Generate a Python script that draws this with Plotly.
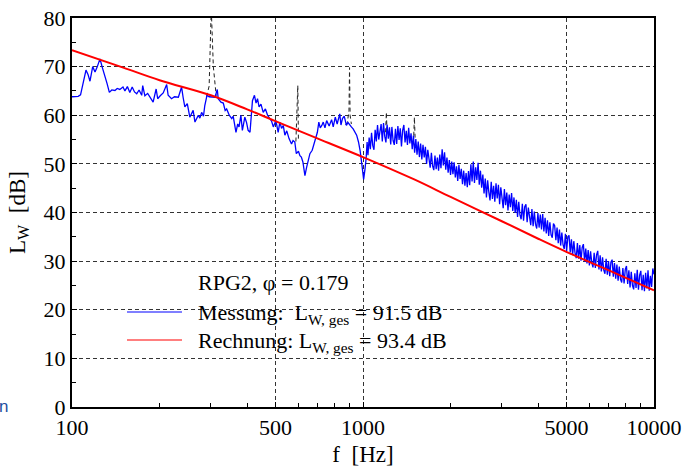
import numpy as np
import plotly.graph_objects as go

# --- Messung, low-frequency part (f in Hz, level in dB) ---
f_mess_low = [100, 103, 105, 107, 110, 111.7, 113.5, 115.3, 117.8, 120, 122, 124.8, 127, 129.8,
              132, 134.4, 137, 140.5, 143, 146, 149.7, 152, 155, 158, 161, 164, 166.9, 170,
              173.6, 175, 178, 182, 186, 190, 194.6, 197, 201, 205.8, 211.5, 214, 219.8, 225,
              232, 238, 241, 244.2, 249, 254, 260.8, 264.6, 271.7, 275, 278.9, 283, 286, 291,
              296, 303, 310, 315.7, 318, 325, 331, 336, 340, 347, 354, 358, 366, 371, 375,
              380.5, 385, 392.6, 398, 403, 409, 417, 423.6, 429, 434, 439.4, 446, 454, 462,
              470, 479, 485, 491.8, 502, 511, 518, 525, 532, 539, 547, 557, 568, 575, 583,
              590, 600, 607, 614, 621.5, 631.6, 640, 648, 657, 669, 678, 689, 697, 705, 713,
              722, 730, 740, 750, 765, 780, 790, 803, 815, 832, 840, 850, 862, 877, 888, 900,
              912, 925, 938, 951, 965, 977, 992, 1005, 1015, 1025, 1033]
L_mess_low = [63.8, 63.8, 63.9, 64.2, 67.5, 69.3, 68.4, 67.0, 70.0, 68.9, 69.9, 71.6, 69.9, 68.2,
              66.5, 64.7, 65.2, 65.1, 65.5, 65.3, 65.8, 65.0, 65.9, 64.7, 65.8, 64.8, 64.4, 65.2,
              64.1, 66.1, 64.0, 64.5, 63.5, 62.7, 65.4, 63.4, 64.0, 64.6, 66.3, 64.1, 63.4, 63.8,
              63.7, 65.8, 63.6, 61.7, 62.4, 59.6, 61.0, 58.6, 60.0, 59.4, 60.6, 59.8, 62.0, 64.1,
              63.8, 63.8, 63.7, 65.3, 63.4, 62.7, 62.5, 61.0, 61.3, 60.0, 59.3, 59.8, 56.5, 58.2, 57.6,
              60.0, 56.9, 59.6, 58.5, 56.9, 56.5, 63.0, 64.1, 62.5, 63.4, 61.7, 62.3, 60.6, 61.3,
              60.0, 59.3, 58.8, 57.6, 58.9, 56.5, 58.6, 57.3, 57.9, 55.9, 56.8, 55.2, 54.1, 54.8, 54.5,
              52.1, 52.6, 51.7, 51.4, 50.4, 47.6, 49.3, 50.7, 52.1, 52.8, 54.1, 55.2, 56.5, 58.6, 57.4,
              57.9, 58.6, 57.4, 58.9, 57.8, 59.1, 57.6, 59.6, 58.2, 60.3, 58.0, 59.3, 59.8, 57.9, 58.5, 57.9,
              57.6, 57.2, 56.6, 55.9, 54.5, 52.8, 49.7, 46.8, 48.7, 51.1, 54.5]

# --- Messung, high-frequency part on a log-spaced analysis grid 1040 Hz .. 10 kHz ---
f_mess_high = np.geomspace(1040, 10000, 240)
L_mess_high = [
    51.8, 55.4, 53.0, 56.4, 53.8, 52.9, 57.0, 54.6, 58.0, 55.0, 56.6, 58.2,
    54.6, 58.4, 55.7, 54.4, 58.1, 55.2, 57.5, 54.0, 57.6, 54.8, 53.9, 57.2,
    54.1, 57.8, 54.9, 57.3, 53.6, 56.9, 58.0, 54.4, 56.8, 53.9, 57.4, 54.2,
    56.3, 53.0, 55.8, 52.3, 55.1, 51.9, 54.6, 51.4, 54.2, 50.9, 53.9, 51.3,
    53.5, 50.0, 52.9, 50.6, 49.2, 52.3, 49.6, 48.7, 51.7, 48.9, 51.3, 48.6,
    51.9, 49.1, 53.0, 49.7, 52.4, 48.8, 51.3, 48.2, 50.8, 47.7, 50.5, 47.9,
    50.3, 47.2, 49.5, 46.5, 49.8, 46.9, 49.0, 45.8, 48.6, 45.5, 48.1, 45.2,
    48.5, 45.6, 49.9, 46.4, 50.5, 46.1, 49.3, 46.7, 50.2, 45.7, 48.6, 45.1,
    47.8, 43.9, 47.0, 43.1, 46.6, 44.2, 42.5, 46.3, 42.8, 45.5, 42.2, 46.0,
    42.9, 45.7, 41.7, 45.2, 42.1, 40.9, 44.8, 41.5, 44.1, 40.4, 43.7, 41.1,
    44.0, 40.3, 43.1, 39.9, 42.6, 39.1, 42.2, 39.5, 38.6, 41.8, 38.3, 41.2,
    41.7, 38.0, 41.0, 38.7, 37.4, 40.7, 37.2, 40.2, 37.6, 36.7, 39.9, 36.9,
    39.6, 36.5, 39.7, 36.1, 38.9, 35.7, 38.4, 35.2, 38.0, 35.4, 34.8, 37.7,
    37.3, 34.3, 36.9, 33.7, 36.5, 33.2, 35.9, 33.4, 32.5, 35.6, 32.1, 35.0,
    35.3, 31.8, 34.5, 31.2, 34.1, 31.7, 30.6, 33.7, 30.5, 33.3, 30.1, 32.8,
    33.5, 29.9, 32.6, 29.5, 32.3, 29.1, 32.0, 29.7, 28.7, 31.7, 28.6, 31.3,
    32.1, 28.3, 31.2, 27.9, 30.8, 28.2, 27.4, 30.5, 27.2, 30.0, 26.9, 29.8,
    30.3, 26.8, 29.6, 26.4, 29.3, 26.0, 28.9, 26.3, 25.6, 28.6, 25.4, 28.3,
    29.0, 25.3, 28.1, 24.6, 27.8, 25.0, 24.2, 27.5, 24.5, 28.2, 24.1, 27.1,
    28.0, 24.0, 27.2, 23.8, 27.6, 24.4, 28.1, 23.9, 27.0, 24.7, 28.5, 27.3,
]

# --- tonal components (unsmoothed spectrum, dashed) ---
f_tonal = [290, 296, 301, 306, 313, None, 588, 593, 597, 600, None,
           872, 884, 895, 899, 903, 912, None, 1196, 1203, 1210, None, 1494, 1502, 1510]
L_tonal = [63.8, 66, 82, 70, 64, None, 54.6, 60, 66.1, 54.8, None,
           58.0, 58.6, 61, 69.8, 60.0, 58.2, None, 56.5, 60.6, 56.2, None, 55.8, 59.6, 55.4]

# --- Rechnung ---
f_rech = [100, 150, 200, 300, 400, 500, 700, 1000, 1500, 2000, 3000, 4000, 5000, 7000, 10000]
L_rech = [73.4, 69.8, 67.2, 64.1, 61.2, 58.8, 55.2, 51.4, 46.8, 43.2, 38.2, 34.6, 31.9, 28.1, 24.0]

phi = 0.179
LW_mess = 91.5
LW_rech = 93.4

x_ticks = [100, 500, 1000, 5000, 10000]
x_minor = [200, 300, 400, 600, 700, 800, 900, 2000, 3000, 4000, 6000, 7000, 8000, 9000]
y_ticks = list(range(0, 81, 10))

FONT = "Liberation Serif"

fig = go.Figure()
fig.add_trace(go.Scatter(x=f_tonal, y=L_tonal, mode="lines", connectgaps=False,
                         line=dict(color="#222222", width=1, dash="4px,3px"),
                         showlegend=False, hoverinfo="skip"))
fig.add_trace(go.Scatter(x=list(f_mess_low) + list(f_mess_high),
                         y=L_mess_low + L_mess_high, mode="lines",
                         line=dict(color="#0000ff", width=1.3), showlegend=False))
fig.add_trace(go.Scatter(x=f_rech, y=L_rech, mode="lines", line_shape="spline",
                         line=dict(color="#ff0000", width=2), showlegend=False))

# plot-area geometry in pixels, used to place the hand-made legend
L_PX, R_PX, T_PX, B_PX = 72, 654, 18, 407


def px(xp):
    return (xp - L_PX) / (R_PX - L_PX)


def py(yp):
    return (B_PX - yp) / (B_PX - T_PX)


shapes = [
    dict(type="rect", xref="paper", yref="paper", x0=px(115), x1=px(453), y0=py(355), y1=py(266),
         fillcolor="white", line=dict(width=0), layer="between"),
    dict(type="line", xref="paper", yref="paper", x0=px(127), x1=px(182), y0=py(312), y1=py(312),
         line=dict(color="#0000ff", width=1.2)),
    dict(type="line", xref="paper", yref="paper", x0=px(127), x1=px(182), y0=py(340), y1=py(340),
         line=dict(color="#ff0000", width=1.2)),
]

annotations = [
    dict(text=f"RPG2, φ = {phi}", x=px(196), y=py(282)),
    dict(text=f"Messung:  L<sub>W, ges</sub> = {LW_mess} dB", x=px(196), y=py(314)),
    dict(text=f"Rechnung: L<sub>W, ges</sub> = {LW_rech} dB", x=px(196), y=py(342)),
]
for a in annotations:
    a.update(xref="paper", yref="paper", xanchor="left", yanchor="middle", showarrow=False,
             font=dict(family=FONT, size=22, color="black"))
annotations.append(dict(text="n", xref="paper", yref="paper", x=px(-3), y=py(406), xanchor="left",
                        yanchor="middle", showarrow=False,
                        font=dict(family="Liberation Sans", size=17, color="#1f4fa0")))

fig.update_layout(
    width=687, height=467,
    margin=dict(l=L_PX, r=687 - R_PX, t=T_PX, b=467 - B_PX),
    paper_bgcolor="white", plot_bgcolor="white",
    font=dict(family=FONT, size=22, color="black"),
    shapes=shapes, annotations=annotations,
    showlegend=False,
)
fig.update_xaxes(
    type="log", range=[2, 4], tickvals=x_ticks, ticktext=[str(v) for v in x_ticks],
    ticks="inside", ticklen=5, tickcolor="black", automargin=False,
    minor=dict(tickvals=x_minor, ticks="inside", ticklen=4, tickcolor="black", showgrid=False),
    showgrid=True, gridcolor="#333333", griddash="4px,3px", gridwidth=1,
    showline=True, linecolor="black", linewidth=2, mirror=True, zeroline=False,
    title=dict(text="f  [Hz]", font=dict(family=FONT, size=23), standoff=6),
    tickfont=dict(family=FONT, size=22),
)
fig.update_yaxes(
    range=[0, 80], tickvals=y_ticks, ticks="inside", ticklen=5, tickcolor="black", automargin=False,
    minor=dict(dtick=5, tick0=5, ticks="inside", ticklen=4, tickcolor="black", showgrid=False),
    showgrid=True, gridcolor="#333333", griddash="4px,3px", gridwidth=1,
    showline=True, linecolor="black", linewidth=2, mirror=True, zeroline=False,
    title=dict(text="L<sub>W</sub>  [dB]", font=dict(family=FONT, size=23), standoff=12),
    tickfont=dict(family=FONT, size=22),
)

fig.write_html("out.html")
